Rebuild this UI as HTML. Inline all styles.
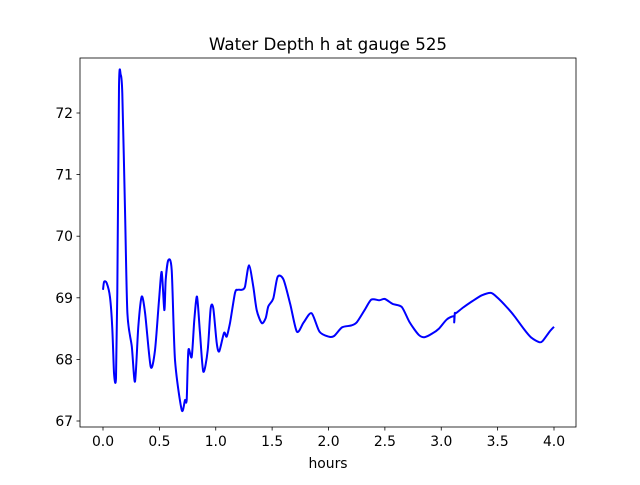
<!DOCTYPE html>
<html><head><meta charset="utf-8"><style>
body{margin:0;background:#fff;font-family:"Liberation Sans","DejaVu Sans",sans-serif}
svg text{font-family:"DejaVu Sans","Liberation Sans",sans-serif;font-size:13.9px;fill:#000}
</style></head><body>
<svg id="chart" width="640" height="480">
<rect x="0" y="0" width="640" height="480" fill="#fff"/>
<text x="328" y="50" text-anchor="middle" style="font-size:16.7px">Water Depth h at gauge 525</text>
<text x="328" y="468" text-anchor="middle">hours</text>
<g id="ticks"></g>
<path id="line" fill="none" stroke="#0000ff" stroke-width="2" stroke-linejoin="round"/>
<rect x="80" y="58" width="496" height="369" fill="none" stroke="#000" stroke-width="0.8"/>
</svg>
<script>
const hours=[0.0,0.01,0.033,0.062,0.082,0.098,0.115,0.127,0.142,0.157,0.171,0.195,0.216,0.255,0.284,0.313,0.343,0.373,0.423,0.461,0.497,0.521,0.544,0.556,0.579,0.609,0.639,0.698,0.727,0.742,0.757,0.787,0.810,0.834,0.860,0.890,0.929,0.955,0.978,1.008,1.031,1.073,1.097,1.126,1.171,1.195,1.230,1.259,1.295,1.333,1.363,1.408,1.443,1.466,1.510,1.549,1.60,1.66,1.72,1.78,1.85,1.92,2.0,2.05,2.12,2.2,2.25,2.32,2.38,2.45,2.5,2.57,2.65,2.72,2.8,2.85,2.92,2.98,3.05,3.11,3.115,3.12,3.13,3.2,3.28,3.36,3.44,3.5,3.58,3.65,3.73,3.8,3.87,3.9,3.96,4.0];
const depth=[69.13,69.26,69.24,69.01,68.53,67.78,67.70,69.08,72.43,72.62,72.32,70.43,68.75,68.21,67.64,68.53,69.02,68.75,67.88,68.15,68.96,69.42,68.80,69.29,69.61,69.45,67.99,67.18,67.34,67.34,68.15,68.04,68.64,69.02,68.43,67.80,68.15,68.83,68.83,68.27,68.13,68.43,68.37,68.59,69.08,69.13,69.13,69.18,69.53,69.18,68.80,68.59,68.67,68.86,68.99,69.34,69.3,68.9,68.45,68.6,68.75,68.45,68.37,68.38,68.52,68.55,68.6,68.8,68.97,68.96,68.98,68.9,68.85,68.6,68.4,68.36,68.42,68.5,68.65,68.7,68.6,68.75,68.75,68.85,68.95,69.04,69.08,69.0,68.85,68.7,68.5,68.35,68.28,68.3,68.45,68.53];
const xTicks=[0.0,0.5,1.0,1.5,2.0,2.5,3.0,3.5,4.0];
const yTicks=[67,68,69,70,71,72];
const X=v=>103+(v-0)*112.75;
const Y=v=>421-(v-67)*61.6;
const NS="http://www.w3.org/2000/svg";
const g=document.getElementById('ticks');
xTicks.forEach(t=>{
  const l=document.createElementNS(NS,'line');
  l.setAttribute('x1',X(t));l.setAttribute('x2',X(t));l.setAttribute('y1',427);l.setAttribute('y2',430.5);l.setAttribute('stroke','#000');l.setAttribute('stroke-width','0.8');
  
  
  g.appendChild(l);
  const tx=document.createElementNS(NS,'text');
  tx.setAttribute('x',X(t));tx.setAttribute('y',446);tx.setAttribute('text-anchor','middle');tx.textContent=t.toFixed(1);
  
  
  g.appendChild(tx);
});
yTicks.forEach(t=>{
  const l=document.createElementNS(NS,'line');
  l.setAttribute('x1',76.5);l.setAttribute('x2',80);l.setAttribute('y1',Y(t));l.setAttribute('y2',Y(t));l.setAttribute('stroke','#000');l.setAttribute('stroke-width','0.8');
  
  
  g.appendChild(l);
  const tx=document.createElementNS(NS,'text');
  tx.setAttribute('x',73);tx.setAttribute('y',Y(t)+5);tx.setAttribute('text-anchor','end');tx.textContent=t;
  
  
  g.appendChild(tx);
});
const P=hours.map((h,i)=>[X(h),Y(depth[i])]);
let d='M'+P[0][0].toFixed(1)+','+P[0][1].toFixed(1);
for(let i=0;i<P.length-1;i++){
  const p0=P[Math.max(0,i-1)],p1=P[i],p2=P[i+1],p3=P[Math.min(P.length-1,i+2)];
  const k=1/6*0.8;
  const c1=[p1[0]+(p2[0]-p0[0])*k,p1[1]+(p2[1]-p0[1])*k];
  const c2=[p2[0]-(p3[0]-p1[0])*k,p2[1]-(p3[1]-p1[1])*k];
  d+='C'+c1[0].toFixed(1)+','+c1[1].toFixed(1)+' '+c2[0].toFixed(1)+','+c2[1].toFixed(1)+' '+p2[0].toFixed(1)+','+p2[1].toFixed(1);
}
document.getElementById('line').setAttribute('d',d);
</script>
</body></html>
